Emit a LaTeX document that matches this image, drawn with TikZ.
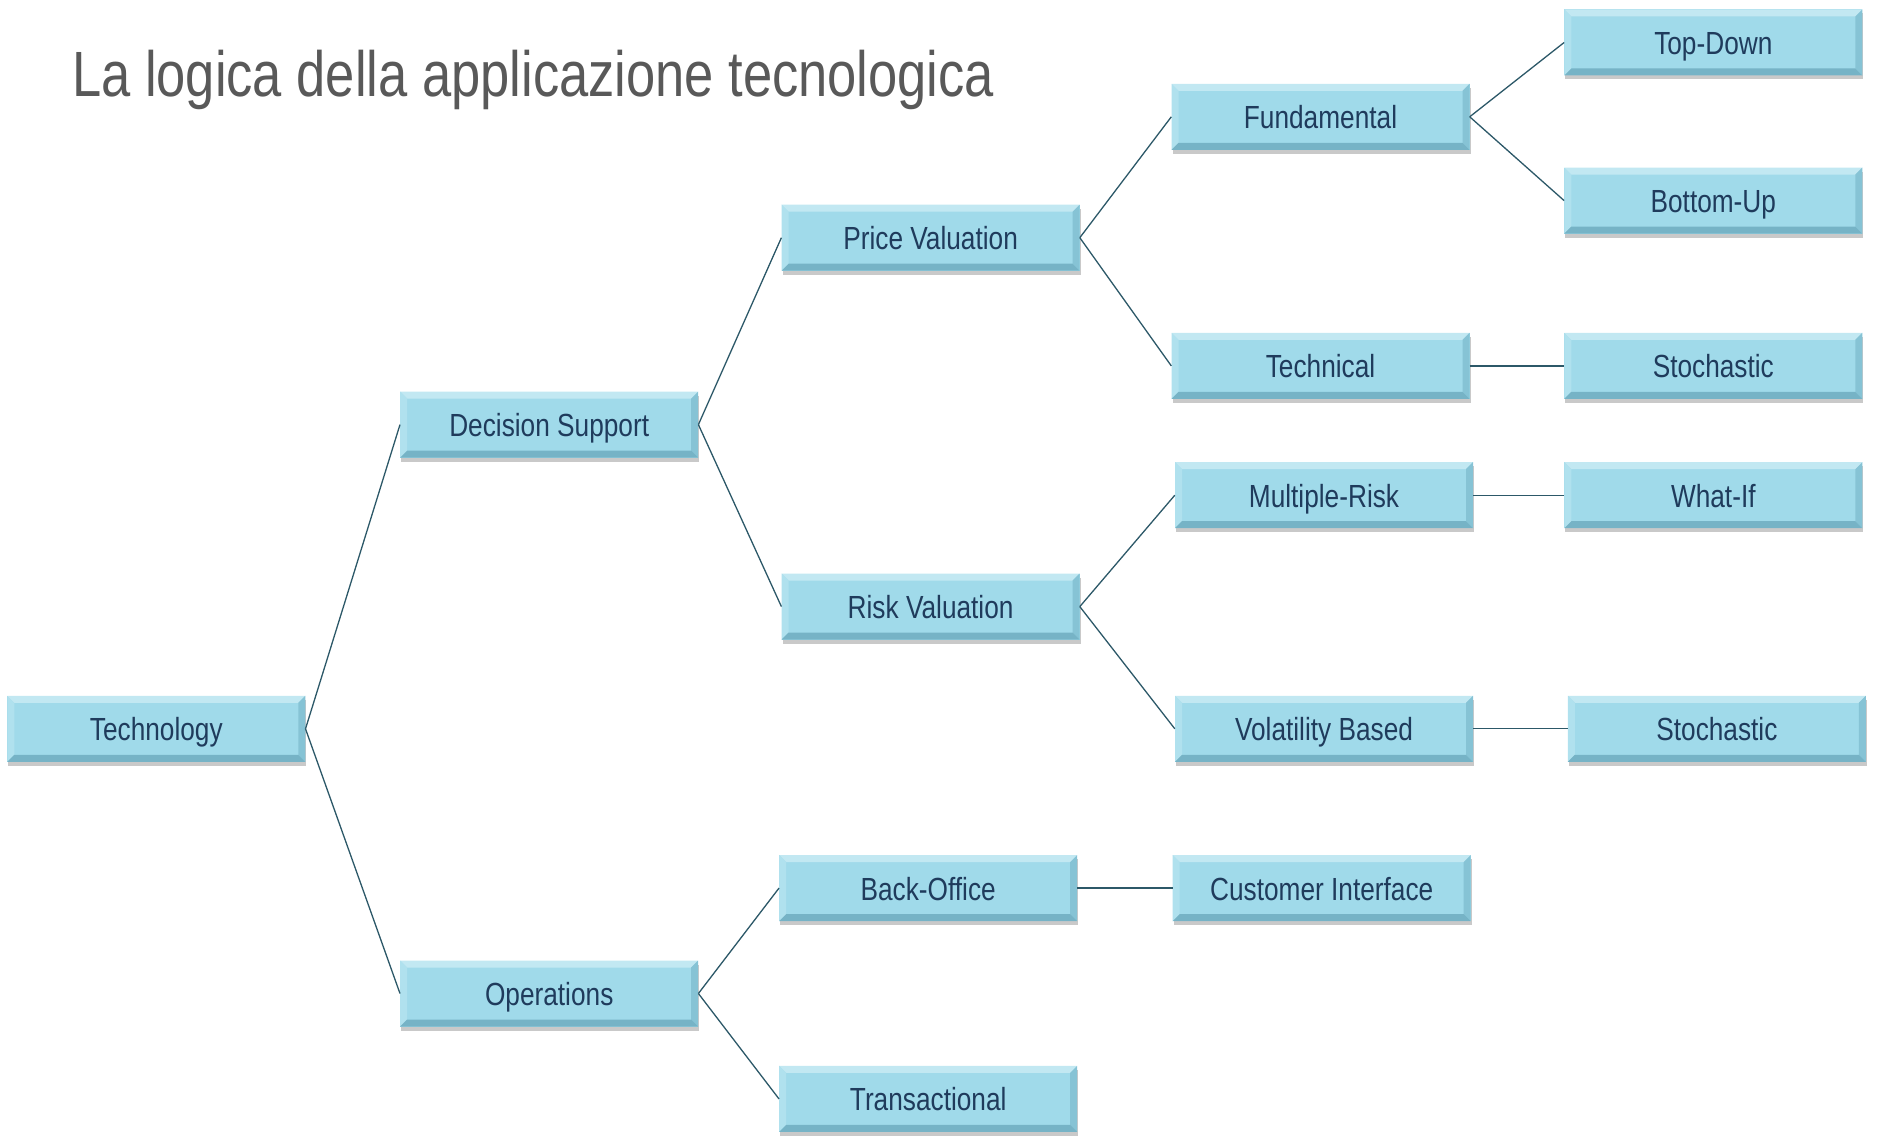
\documentclass[tikz,border=0pt]{standalone}
\usepackage{fontspec}
\setmainfont{Liberation Sans}[FakeStretch=0.82]
\usetikzlibrary{shadows}
\definecolor{boxfill}{HTML}{A0DAEA}
\definecolor{bevtop}{HTML}{C2E8F2}
\definecolor{bevleft}{HTML}{B0E1EE}
\definecolor{bevright}{HTML}{86C3D5}
\definecolor{bevbot}{HTML}{76B3C6}
\definecolor{boxtext}{HTML}{1F3B5C}
\definecolor{linkcol}{HTML}{2C5868}
\definecolor{titlecol}{HTML}{595959}
\tikzset{
  bevbox/.style={rectangle, minimum width=298pt, minimum height=66pt, inner sep=0pt,
    fill=boxfill, text=boxtext, font=\fontsize{32}{36}\selectfont,
    text height=24pt, text depth=0pt,
    drop shadow={shadow xshift=1pt, shadow yshift=-4pt, opacity=0.3, fill=black!70},
    path picture={
      \fill[bevtop] (path picture bounding box.north west) -- (path picture bounding box.north east)
        -- ([shift={(-7pt,-7pt)}]path picture bounding box.north east) -- ([shift={(7pt,-7pt)}]path picture bounding box.north west) -- cycle;
      \fill[bevleft] (path picture bounding box.north west) -- (path picture bounding box.south west)
        -- ([shift={(7pt,7pt)}]path picture bounding box.south west) -- ([shift={(7pt,-7pt)}]path picture bounding box.north west) -- cycle;
      \fill[bevright] (path picture bounding box.north east) -- (path picture bounding box.south east)
        -- ([shift={(-7pt,7pt)}]path picture bounding box.south east) -- ([shift={(-7pt,-7pt)}]path picture bounding box.north east) -- cycle;
      \fill[bevbot] (path picture bounding box.south west) -- (path picture bounding box.south east)
        -- ([shift={(-7pt,7pt)}]path picture bounding box.south east) -- ([shift={(7pt,7pt)}]path picture bounding box.south west) -- cycle;
    }},
  link/.style={draw=linkcol, line width=1.3pt}
}
\begin{document}
\begin{tikzpicture}[x=1pt,y=-1pt]
\useasboundingbox (0,0) rectangle (1878,1137);
\node[anchor=base west, text=titlecol, font=\fontsize{64}{70}\selectfont, inner sep=0pt] (title) at (72,97) {La logica della applicazione tecnologica};
\node[bevbox] (tech) at (156.3,728.8) {Technology};
\node[bevbox] (ds) at (549.2,424.6) {Decision Support};
\node[bevbox] (ops) at (549.2,993.5) {Operations};
\node[bevbox] (pv) at (930.6,237.7) {Price Valuation};
\node[bevbox] (rv) at (930.6,606.6) {Risk Valuation};
\node[bevbox] (bo) at (928.2,888.1) {Back-Office};
\node[bevbox] (tr) at (928.2,1098.9) {Transactional};
\node[bevbox] (fu) at (1320.5,116.8) {Fundamental};
\node[bevbox] (te) at (1320.5,365.9) {Technical};
\node[bevbox] (mr) at (1324.0,495.2) {Multiple-Risk};
\node[bevbox] (vb) at (1324.0,728.8) {Volatility Based};
\node[bevbox] (ci) at (1321.7,888.1) {Customer Interface};
\node[bevbox] (td) at (1713.3,42.5) {Top-Down};
\node[bevbox] (bu) at (1713.3,200.6) {Bottom-Up};
\node[bevbox] (st1) at (1713.3,365.9) {Stochastic};
\node[bevbox] (wi) at (1713.3,495.2) {What-If};
\node[bevbox] (st2) at (1716.9,728.8) {Stochastic};
\draw[link] (tech.east) -- (ds.west);
\draw[link] (tech.east) -- (ops.west);
\draw[link] (ds.east) -- (pv.west);
\draw[link] (ds.east) -- (rv.west);
\draw[link] (ops.east) -- (bo.west);
\draw[link] (ops.east) -- (tr.west);
\draw[link] (pv.east) -- (fu.west);
\draw[link] (pv.east) -- (te.west);
\draw[link] (rv.east) -- (mr.west);
\draw[link] (rv.east) -- (vb.west);
\draw[link] (bo.east) -- (ci.west);
\draw[link] (fu.east) -- (td.west);
\draw[link] (fu.east) -- (bu.west);
\draw[link] (te.east) -- (st1.west);
\draw[link] (mr.east) -- (wi.west);
\draw[link] (vb.east) -- (st2.west);
\end{tikzpicture}
\end{document}
